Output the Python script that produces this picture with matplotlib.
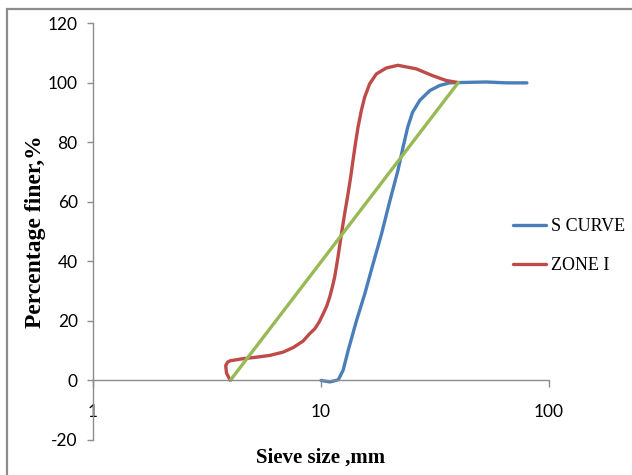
import matplotlib
matplotlib.use("Agg")
import matplotlib.pyplot as plt
from matplotlib.patches import Rectangle

plt.rcParams["axes.unicode_minus"] = False

# ==== Данные ====
s_curve_x = [10.0, 10.95, 11.9, 12.5, 13.15, 14.3, 15.55, 16.9, 18.4, 20.0, 21.75,
             22.9, 24.0, 25.2, 27.1, 30.0, 33.1, 36.6, 40.0, 53.0, 65.0, 80.0]
s_curve_y = [0.0, -0.5, 0.2, 3.4, 10.0, 20.0, 29.0, 39.0, 49.0, 60.0, 70.5,
             78.3, 85.0, 90.0, 94.0, 97.3, 99.0, 99.9, 100.0, 100.2, 99.9, 99.9]

zone_x = [4.0, 3.85, 3.82, 3.9, 4.0, 4.55, 5.21, 5.96, 6.82, 7.54, 8.34, 8.92,
          9.38, 9.8, 10.2, 10.6, 10.92, 11.2, 11.48, 11.87, 12.29, 12.7, 13.13,
          13.49, 13.81, 14.15, 14.53, 15.03, 15.54, 16.35, 17.49, 19.34, 21.75,
          26.2, 30.9, 35.4, 40.0]
zone_y = [0.0, 2.5, 5.0, 6.2, 6.6, 7.3, 7.8, 8.4, 9.5, 11.0, 13.2, 15.7,
          17.3, 19.5, 22.2, 25.0, 28.0, 31.2, 34.7, 41.4, 49.2, 56.0, 62.5,
          68.2, 73.8, 79.4, 85.0, 90.6, 95.1, 99.6, 102.9, 104.9, 105.8,
          104.6, 102.3, 100.7, 100.0]

line_x = [4.0, 40.0]
line_y = [0.0, 100.0]

y_ticks = [-20, 0, 20, 40, 60, 80, 100, 120]
x_ticks = [1, 10, 100]

fig = plt.figure(figsize=(6.32, 4.75), dpi=100)
ax = fig.add_axes([93 / 632, 1 - 440 / 475, (549 - 93) / 632, (440 - 23) / 475])

# рамка области диаграммы
fig.patches.append(Rectangle((7 / 632, -0.1), 1.2, 1 - 9 / 475 + 0.1,
                             transform=fig.transFigure, fill=False,
                             edgecolor="#8c8c8c", linewidth=1.6))

style = dict(lw=2.4, solid_capstyle="round", solid_joinstyle="round")
ax.plot(s_curve_x, s_curve_y, color="#4A7EBB", label="S CURVE", **style)
ax.plot(zone_x, zone_y, color="#BE4B48", label="ZONE I", **style)
ax.plot(line_x, line_y, color="#98B954", **style)

ax.set_xscale("log")
ax.set_xlim(1, 100)
ax.set_ylim(-20, 120)
ax.set_yticks(y_ticks)
ax.set_xticks(x_ticks)
ax.set_xticklabels([str(v) for v in x_ticks])
ax.minorticks_off()

for side in ["top", "right"]:
    ax.spines[side].set_visible(False)
ax.spines["bottom"].set_position(("data", 0))
for side in ["left", "bottom"]:
    ax.spines[side].set_color("#8c8c8c")
    ax.spines[side].set_linewidth(1.0)

ax.tick_params(axis="y", direction="out", length=4, width=1, color="#8c8c8c",
               pad=7, labelsize=12.5)
ax.tick_params(axis="x", direction="out", length=5, width=1, color="#8c8c8c",
               pad=12, labelsize=12.5)
for lbl in ax.get_xticklabels() + ax.get_yticklabels():
    lbl.set_fontfamily("Lato")

fig.text(321 / 632, 1 - 458 / 475, "Sieve size ,mm", ha="center", va="center",
         fontsize=15, fontweight="bold", family="Liberation Serif")
fig.text(36 / 632, 1 - 232 / 475, "Percentage finer,%", ha="center", va="center",
         rotation=90, fontsize=17, fontweight="bold", family="Liberation Serif")

ax.legend(loc="upper left", bbox_to_anchor=(0.922, 0.532), frameon=False,
          prop={"family": "Liberation Serif", "size": 13},
          handlelength=1.8, handletextpad=0.27, labelspacing=1.2,
          borderaxespad=0, borderpad=0)

fig.savefig("out.png", dpi=100)
